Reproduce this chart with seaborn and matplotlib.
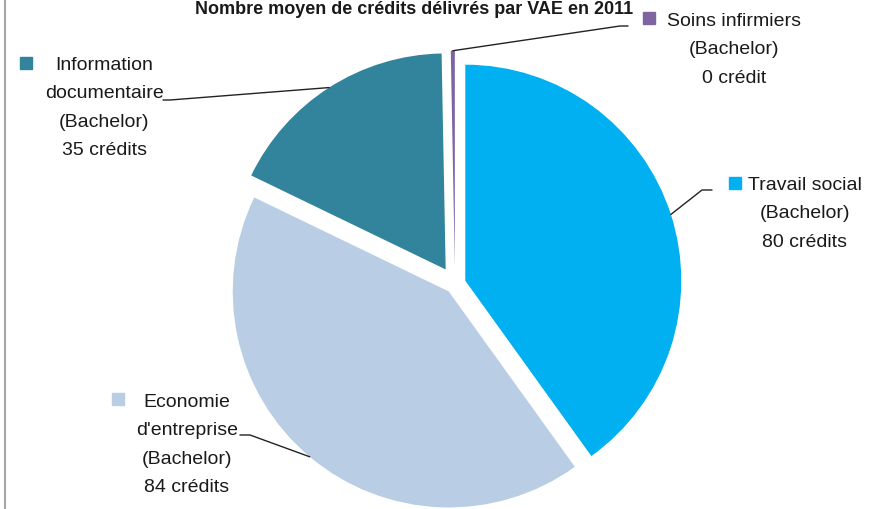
import matplotlib
matplotlib.use("Agg")
import matplotlib.pyplot as plt
import seaborn as sns
import numpy as np
from matplotlib.lines import Line2D

# ---- data ----
categories = ["Travail social", "Economie d'entreprise",
              "Information documentaire", "Soins infirmiers"]
credits = [80, 84, 35, 0.6]           # Soins infirmiers: ~0 (thin sliver)
label_lines = [["Travail social", "(Bachelor)", "80 crédits"],
               ["Economie", "d'entreprise", "(Bachelor)", "84 crédits"],
               ["Information", "documentaire", "(Bachelor)", "35 crédits"],
               ["Soins infirmiers", "(Bachelor)", "0 crédit"]]
colors = ["#00B0F0", "#B9CDE5", "#31849B", "#8064A2"]
title = "Nombre moyen de crédits délivrés par VAE en 2011"

# ---- style ----
sns.set_theme(style="white")
plt.rcParams['font.family'] = ['Liberation Sans', 'DejaVu Sans']
TXT = "#1a1a1a"

W, H = 882, 509
R = 216.0
CX, CY = 455.0, 284.0

def px(x, y):
    return ((x - CX) / R, (CY - y) / R)

fig = plt.figure(figsize=(W / 100, H / 100), dpi=100)
ax = fig.add_axes([0, 0, 1, 1])
explode = [0.05, 0.045, 0.08, 0.08]
wedges, _ = ax.pie(credits, colors=sns.color_palette(colors), explode=explode,
                   startangle=90, counterclock=False, radius=1,
                   wedgeprops=dict(linewidth=0))
ax.set_xlim(-CX / R, (W - CX) / R)
ax.set_ylim(-(H - CY) / R, CY / R)
ax.set_aspect('equal')
ax.axis('off')

# label layout: (square x, square y, text center x, first line center y, elbow points)
layout = [
    (735, 183, 805, 183, [(702, 190), (712, 190)]),
    (118, 399, 187, 400, [(250, 435), (240, 435)]),
    (26, 63, 104, 63, [(170, 100), (163, 100)]),
    (649, 18, 734, 19, [(620, 26), (628, 26)]),
]
STEP = 28.3
for w, lines, col, (sx, sy, tx, ty, elbow) in zip(wedges, label_lines, colors, layout):
    mx, my = px(sx, sy)
    ax.plot([mx], [my], marker='s', markersize=8, color=col, linestyle='none')
    for i, line in enumerate(lines):
        x, y = px(tx, ty + i * STEP + 7)
        ax.text(x, y, line, ha='center', va='baseline', fontsize=14, color=TXT)
    # leader line from wedge mid-angle on the arc
    th = np.deg2rad((w.theta1 + w.theta2) / 2)
    cx, cy = w.center
    start = (cx + w.r * np.cos(th), cy + w.r * np.sin(th))
    pts = [start] + [px(*p) for p in elbow]
    ax.plot([p[0] for p in pts], [p[1] for p in pts], color="#222222", lw=1.0)

# title at the very top
x, y = px(414, 1)
ax.text(x, y, title, ha='center', va='top', fontsize=13,
        fontweight='bold', color=TXT)

# left frame line
fig.add_artist(Line2D([4.5 / W, 4.5 / W], [0, 1], color="#a6a6a6", lw=1.5,
                      transform=fig.transFigure))

fig.savefig("out.png", dpi=100)
